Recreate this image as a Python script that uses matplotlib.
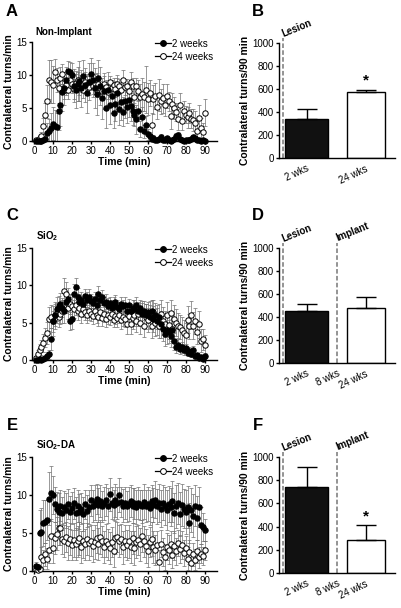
import matplotlib
matplotlib.use("Agg")
import matplotlib.pyplot as plt
import numpy as np

plt.rcParams['font.family'] = ['Liberation Sans', 'DejaVu Sans']
plt.rcParams['mathtext.fontset'] = 'custom'
plt.rcParams['mathtext.rm'] = 'Liberation Sans:bold'
plt.rcParams['mathtext.bf'] = 'Liberation Sans:bold'

time_min = list(range(1, 91))

a_2wk = [0, 0, 0, 0, 0.1, 0.3, 1.2, 1.5, 2.0, 2.6, 2.3, 2.1, 4.6, 5.5, 7.5, 8.0, 9.2, 10.6, 10.5, 10.0,
         8.4, 7.8, 8.6, 9.1, 8.0, 9.8, 8.5, 7.2, 9.0, 10.2, 9.2, 8.0, 7.1, 9.5, 8.3, 6.5, 7.6, 5.0, 7.8, 5.4,
         6.8, 4.3, 5.6, 7.2, 4.8, 5.9, 4.4, 6.0, 5.2, 6.2, 5.3, 4.5, 4.0, 3.3, 4.6, 1.8, 3.6, 1.5, 2.4, 1.0,
         0.7, 0.3, 0.5, 0.2, 0.1, 0.3, 0.6, 0.2, 0.1, 0.5, 0.1, 0.0, 0.2, 0.3, 0.8, 0.9, 0.3, 0.1, 0.0, 0.1,
         0.2, 0.1, 0.3, 0.6, 0.5, 0.2, 0.1, 0.0, 0.1, 0.0]
a_2wk_err = [0, 0, 0, 0, 0.2, 0.5, 1.5, 1.8, 2.2, 2.5, 2.4, 2.2, 3.0, 3.2, 3.0, 2.5, 2.0, 1.5, 1.4, 1.8,
             2.5, 2.8, 2.6, 3.0, 2.8, 2.4, 2.6, 3.0, 2.8, 2.4, 2.6, 3.0, 3.2, 2.8, 2.9, 3.1, 2.7, 3.0, 2.6, 2.8,
             2.5, 2.4, 2.6, 2.8, 2.3, 2.7, 2.2, 2.5, 2.4, 2.6, 2.3, 2.0, 1.8, 2.2, 1.6, 1.2, 1.5, 1.0, 1.4, 0.8,
             0.6, 0.4, 0.4, 0.3, 0.2, 0.3, 0.4, 0.2, 0.2, 0.3, 0.2, 0.1, 0.2, 0.3, 0.4, 0.4, 0.3, 0.2, 0.1, 0.2,
             0.2, 0.1, 0.2, 0.3, 0.3, 0.2, 0.1, 0.1, 0.1, 0.1]
a_24wk = [0.1, 0.2, 0.5, 0.8, 2.3, 4.0, 6.0, 9.3, 9.0, 8.5, 10.5, 9.2, 8.0, 9.6, 10.2, 7.7, 8.5, 7.8, 9.2, 8.6,
          7.9, 8.8, 9.2, 8.3, 8.7, 7.7, 9.0, 8.5, 8.2, 9.1, 8.3, 8.8, 7.8, 8.6, 8.1, 7.6, 8.7, 8.2, 7.4, 8.9,
          8.0, 8.5, 7.9, 8.6, 8.3, 7.7, 9.3, 8.2, 8.4, 7.6, 9.0, 8.4, 6.7, 8.3, 7.6, 6.6, 7.1, 6.7, 7.8, 6.4,
          7.3, 2.5, 6.3, 6.8, 5.2, 7.0, 6.0, 6.5, 5.4, 6.8, 6.0, 3.8, 5.6, 5.0, 4.4, 3.3, 5.5, 3.0, 4.6, 4.0,
          3.6, 4.2, 3.4, 3.2, 2.8, 1.5, 3.5, 2.0, 1.4, 4.3]
a_24wk_err = [0.1, 0.2, 0.4, 0.6, 1.2, 1.8, 2.5, 3.0, 3.2, 2.8, 2.0, 1.8, 2.2, 1.6, 1.5, 1.4, 1.6, 1.5, 1.2, 1.4,
              1.5, 1.3, 1.2, 1.4, 1.3, 1.2, 1.4, 1.3, 1.2, 1.1, 1.2, 1.3, 1.1, 1.2, 1.0, 1.1, 1.2, 1.0, 1.1, 1.0,
              1.0, 1.1, 1.2, 1.0, 1.1, 1.3, 1.5, 1.2, 1.0, 1.1, 1.4, 1.2, 1.5, 1.3, 1.6, 2.0, 2.5, 2.2, 3.5, 2.4,
              2.0, 1.8, 2.2, 2.0, 1.8, 2.4, 1.9, 2.2, 1.6, 1.8, 1.5, 2.0, 1.6, 1.7, 1.4, 1.6, 1.8, 1.4, 1.5, 1.3,
              1.6, 1.5, 1.4, 1.7, 1.8, 1.6, 2.0, 1.5, 1.4, 2.1]

c_2wk = [0, 0, 0.1, 0, 0.2, 0.3, 0.6, 0.8, 2.8, 5.2, 6.0, 6.8, 7.2, 7.5, 7.0, 6.5, 7.8, 8.2, 5.2, 5.5,
         8.8, 9.8, 8.5, 7.8, 8.0, 7.5, 8.6, 8.1, 8.4, 7.9, 7.6, 8.2, 7.4, 8.8, 8.0, 8.4, 7.6, 7.8, 7.2, 7.6,
         7.0, 7.3, 7.8, 7.1, 6.8, 7.5, 7.2, 7.4, 6.6, 7.3, 6.5, 7.0, 6.8, 7.4, 6.5, 6.9, 6.2, 6.6, 6.0, 6.4,
         5.8, 6.5, 5.5, 6.0, 5.2, 5.8, 4.8, 4.2, 3.5, 4.0, 3.8, 3.2, 4.0, 2.5, 1.8, 2.0, 1.5, 1.7, 1.3, 1.6,
         1.0, 1.2, 0.8, 1.4, 0.5, 0.7, 0.3, 0.4, 0.2, 0.6]
c_2wk_err = [0, 0, 0.1, 0.1, 0.2, 0.3, 0.5, 0.6, 1.5, 2.0, 1.8, 1.6, 1.4, 1.5, 1.3, 1.6, 1.5, 1.4, 1.2, 1.3,
             1.4, 1.2, 1.1, 1.0, 1.1, 1.0, 0.9, 1.0, 1.1, 0.9, 1.0, 0.9, 1.0, 1.1, 0.9, 1.0, 0.9, 1.0, 1.1, 0.9,
             1.0, 1.1, 0.9, 1.0, 0.9, 1.0, 0.9, 1.0, 1.1, 0.9, 1.0, 1.1, 1.2, 1.1, 1.3, 1.2, 1.4, 1.3, 1.5, 1.4,
             1.6, 1.5, 1.7, 1.6, 1.8, 1.7, 1.8, 1.7, 1.6, 1.8, 1.5, 1.4, 1.5, 1.2, 0.9, 0.8, 0.7, 0.7, 0.6, 0.6,
             0.5, 0.5, 0.4, 0.5, 0.3, 0.3, 0.2, 0.2, 0.2, 0.3]
c_24wk = [0.3, 0.8, 1.3, 1.7, 2.3, 3.0, 3.6, 5.5, 5.8, 5.2, 6.0, 6.3, 5.7, 6.2, 6.5, 9.2, 8.8, 7.0, 7.5, 7.2,
          6.8, 7.3, 6.6, 7.0, 6.2, 6.8, 6.4, 6.0, 6.6, 6.2, 5.9, 6.5, 6.0, 5.8, 6.4, 5.6, 6.1, 5.5, 6.0, 5.7,
          6.2, 5.4, 5.9, 5.6, 6.0, 5.3, 5.8, 5.5, 4.8, 5.9, 4.8, 5.6, 6.0, 5.2, 6.1, 5.0, 6.3, 4.6, 5.8, 5.3,
          6.1, 4.5, 6.4, 5.0, 5.7, 4.6, 6.2, 5.2, 4.8, 6.0, 4.7, 6.3, 4.2, 5.5, 5.0, 4.6, 4.4, 4.0, 3.6, 3.3,
          5.4, 4.5, 6.0, 4.6, 5.2, 3.8, 4.8, 2.6, 2.8, 2.0]
c_24wk_err = [0.3, 0.6, 0.9, 1.0, 1.2, 1.3, 1.5, 1.6, 1.5, 1.4, 1.5, 1.4, 1.3, 1.4, 1.5, 1.8, 1.7, 1.5, 1.4, 1.3,
              1.2, 1.3, 1.2, 1.1, 1.2, 1.1, 1.0, 1.1, 1.2, 1.0, 1.1, 1.0, 1.1, 1.2, 1.0, 1.1, 1.0, 1.1, 1.2, 1.0,
              1.1, 1.0, 1.1, 1.2, 1.0, 1.1, 1.2, 1.1, 1.3, 1.2, 1.3, 1.4, 1.5, 1.4, 1.6, 1.5, 1.6, 1.5, 1.7, 1.6,
              1.8, 1.6, 1.7, 1.8, 1.6, 1.7, 1.8, 1.9, 1.7, 1.8, 1.9, 1.8, 1.7, 1.9, 1.8, 1.7, 1.6, 1.8, 1.7, 1.6,
              1.8, 1.7, 1.9, 1.8, 1.7, 1.6, 1.8, 1.5, 1.4, 1.3]

e_2wk = [0.7, 0.5, 5.0, 5.1, 6.3, 6.5, 6.7, 9.5, 10.2, 10.0, 8.8, 8.2, 7.8, 8.6, 7.6, 8.4, 8.0, 8.8, 7.7, 8.3,
         8.9, 7.6, 8.5, 7.8, 8.2, 7.5, 8.8, 7.9, 8.4, 9.3, 8.6, 9.0, 9.5, 8.7, 9.2, 8.5, 8.9, 9.4, 8.6, 10.1,
         9.0, 8.7, 9.3, 8.9, 10.0, 9.1, 8.6, 9.0, 8.5, 8.8, 9.2, 8.6, 8.9, 8.4, 9.0, 8.7, 8.5, 9.1, 8.6, 8.8,
         8.3, 9.2, 8.7, 9.4, 8.5, 8.9, 8.2, 9.0, 8.6, 8.0, 8.8, 8.4, 9.2, 7.6, 8.5, 8.9, 7.5, 8.7, 8.2, 7.8,
         8.4, 6.3, 8.0, 7.3, 8.6, 7.0, 8.4, 6.0, 5.8, 5.4]
e_2wk_err = [0.5, 0.4, 3.0, 3.2, 3.0, 2.8, 2.6, 3.5, 3.6, 2.5, 2.3, 2.2, 2.4, 2.0, 2.2, 2.1, 2.3, 2.0, 2.2, 2.1,
             2.0, 2.2, 2.1, 2.3, 2.0, 2.2, 1.9, 2.1, 2.2, 2.0, 2.1, 2.3, 2.0, 2.2, 2.1, 2.0, 2.2, 2.1, 2.3, 2.2,
             2.1, 2.0, 2.2, 2.1, 2.3, 2.0, 2.2, 2.1, 2.0, 2.2, 2.1, 2.3, 2.0, 2.2, 2.1, 2.0, 2.2, 2.3, 2.1, 2.2,
             2.3, 2.1, 2.2, 2.4, 2.3, 2.5, 2.4, 2.3, 2.5, 2.6, 2.4, 2.5, 2.7, 2.6, 2.8, 2.7, 2.9, 2.8, 2.6, 2.9,
             2.8, 2.6, 2.9, 2.8, 2.7, 2.9, 2.6, 2.4, 1.8, 1.5]
e_24wk = [0.2, 0.1, 0.3, 1.8, 1.5, 2.2, 1.6, 2.8, 4.6, 3.0, 4.3, 4.9, 5.7, 5.6, 4.2, 3.9, 4.5, 3.7, 4.2, 3.4,
          4.1, 3.6, 3.9, 4.3, 3.2, 4.0, 3.5, 4.2, 3.7, 4.0, 3.3, 3.8, 4.4, 3.6, 4.5, 3.9, 3.1, 4.0, 3.5, 3.0,
          3.8, 2.6, 4.4, 4.5, 3.9, 4.2, 3.1, 4.0, 3.4, 3.9, 3.2, 4.3, 3.0, 3.8, 4.1, 3.5, 4.6, 3.9, 3.3, 2.6,
          3.8, 4.2, 3.1, 2.8, 3.4, 1.2, 3.6, 2.5, 1.8, 3.2, 2.8, 3.5, 2.1, 3.3, 2.6, 3.7, 2.9, 3.4, 2.4, 3.0,
          1.6, 2.5, 1.1, 2.2, 1.5, 2.6, 1.8, 2.3, 2.0, 2.7]
e_24wk_err = [0.2, 0.2, 0.4, 1.4, 1.3, 1.5, 1.4, 1.8, 2.2, 2.0, 2.1, 2.2, 2.3, 2.2, 2.0, 2.1, 2.0, 2.2, 2.1, 2.0,
              2.2, 2.1, 2.0, 2.2, 2.1, 2.3, 2.0, 2.1, 2.2, 2.0, 2.1, 2.2, 2.0, 2.1, 2.2, 2.0, 2.1, 2.2, 2.0, 2.1,
              2.0, 2.1, 2.2, 2.0, 2.1, 2.0, 2.2, 2.1, 2.0, 2.2, 2.1, 2.0, 2.2, 2.1, 2.0, 2.2, 2.1, 2.0, 2.2, 2.1,
              2.0, 2.2, 2.1, 2.0, 1.9, 1.6, 1.8, 1.9, 1.7, 1.8, 1.9, 1.8, 1.7, 1.9, 1.8, 1.7, 1.9, 1.8, 1.7, 1.6,
              1.5, 1.6, 1.4, 1.5, 1.4, 1.5, 1.4, 1.3, 1.2, 1.3]

bar_labels_B = ['2 wks', '24 wks']
bar_means_B = [340, 570]
bar_err_B = [90, 25]
bar_labels_DF = ['2 wks', '8 wks', '24 wks']
bar_means_D = [455, 480]
bar_err_D = [55, 95]
bar_means_F = [745, 285]
bar_err_F = [170, 130]

W, H = 401, 608
fig = plt.figure(figsize=(W / 100, H / 100), dpi=100)


def px_axes(left, top, right, bottom):
    return fig.add_axes([left / W, 1 - bottom / H, (right - left) / W, (bottom - top) / H])


def style_axes(ax):
    for s in ['top', 'right']:
        ax.spines[s].set_visible(False)
    for s in ['left', 'bottom']:
        ax.spines[s].set_linewidth(1.0)
    ax.tick_params(labelsize=7, width=1.0, length=2.5, pad=1)


left_rows = [(42, 141), (248, 360), (457, 571)]
right_rows = [(43, 158), (248, 363), (457, 573)]
titles = ['Non-Implant', r'SiO$_\mathregular{2}$', r'SiO$_\mathregular{2}$-DA']
series = [(a_2wk, a_2wk_err, a_24wk, a_24wk_err),
          (c_2wk, c_2wk_err, c_24wk, c_24wk_err),
          (e_2wk, e_2wk_err, e_24wk, e_24wk_err)]
letters_left = ['A', 'C', 'E']
letters_right = ['B', 'D', 'F']
letter_y = [12, 215, 425]

for i in range(3):
    top, bot = left_rows[i]
    ax = px_axes(32, top, 217, bot)
    style_axes(ax)
    s2, e2, s24, e24 = series[i]
    ax.errorbar(time_min, s24, yerr=e24, fmt='none', ecolor='#707070', elinewidth=0.5,
                capsize=1.6, capthick=0.5, zorder=2)
    ax.errorbar(time_min, s2, yerr=e2, fmt='none', ecolor='#707070', elinewidth=0.5,
                capsize=1.6, capthick=0.5, zorder=2)
    ax.plot(time_min, s24, 'o', ms=3.9, mfc='white', mec='black', mew=0.7, zorder=3, clip_on=False)
    ax.plot(time_min, s2, 'o', ms=3.9, mfc='black', mec='black', mew=0.7, zorder=4, clip_on=False)
    ax.set_xlim(-1, 96.5)
    ax.set_ylim(0, 15)
    ax.set_xticks(range(0, 91, 10))
    ax.set_yticks([0, 5, 10, 15])
    ax.set_xlabel('Time (min)', fontsize=7.5, fontweight='bold', labelpad=1)
    ax.set_ylabel('Contralateral turns/min', fontsize=7.5, fontweight='bold', labelpad=2)
    h1, = ax.plot([], [], '-o', color='black', ms=4.2, mfc='black', mew=0.7, lw=0.9)
    h2, = ax.plot([], [], '-o', color='black', ms=4.2, mfc='white', mew=0.7, lw=0.9)
    ax.legend([h1, h2], ['2 weeks', '24 weeks'], loc='upper right',
              bbox_to_anchor=(1.0, 1.0 + 7 / (bot - top)),
              frameon=False, fontsize=7, handlelength=1.6, handletextpad=0.1,
              labelspacing=0.3, borderaxespad=0)
    ax.text(0.02, 1.0 + 5 / (bot - top), titles[i], transform=ax.transAxes, fontsize=7,
            fontweight='bold', ha='left', va='bottom')
    fig.text(12 / W, 1 - letter_y[i] / H, letters_left[i], fontsize=12, fontweight='bold',
             ha='center', va='center')

    # bar panel
    top, bot = right_rows[i]
    bx = px_axes(279, top, 395, bot)
    style_axes(bx)
    bx.set_xlim(0, 11.6)
    bx.set_ylim(0, 1000)
    bx.set_yticks(range(0, 1001, 200))
    bx.set_ylabel('Contralateral turns/90 min', fontsize=7.5, fontweight='bold', labelpad=2)
    bar_x = [2.75, 8.65]
    bar_w = [4.3, 3.8]
    if i == 0:
        means, errs = bar_means_B, bar_err_B
        tick_pos = bar_x
        tick_lab = bar_labels_B
        lines = [(0.4, 'Lesion')]
    else:
        means = bar_means_D if i == 1 else bar_means_F
        errs = bar_err_D if i == 1 else bar_err_F
        tick_pos = [bar_x[0], 5.8, bar_x[1]]
        tick_lab = bar_labels_DF
        lines = [(0.4, 'Lesion'), (5.8, 'Implant')]
    bx.bar(bar_x[0], means[0], width=bar_w[0], color='#111111', edgecolor='black', lw=1, zorder=2)
    bx.bar(bar_x[1], means[1], width=bar_w[1], color='white', edgecolor='black', lw=1, zorder=2)
    for j in range(2):
        bx.errorbar(bar_x[j], means[j], yerr=[[0], [errs[j]]], fmt='none', ecolor='black',
                    elinewidth=1, capsize=7, capthick=1, zorder=3)
    if i in (0, 2):
        bx.text(bar_x[1], means[1] + errs[1] + 15, '*', ha='center', va='bottom',
                fontsize=11, fontweight='bold')
    for (xl, lab) in lines:
        bx.plot([xl, xl], [0, 1040], ls=(0, (3, 1.5)), color='#777777', lw=1.1, clip_on=False, zorder=1)
        bx.text(xl + 0.1, 1040, lab, rotation=22, fontsize=7, fontweight='bold',
                ha='left', va='bottom', rotation_mode='anchor')
    bx.set_xticks(tick_pos)
    bx.set_xticklabels(tick_lab, rotation=25, ha='right', rotation_mode='anchor')
    bx.tick_params(axis='x', length=0, pad=4)
    fig.text(258 / W, 1 - letter_y[i] / H, letters_right[i], fontsize=12, fontweight='bold',
             ha='center', va='center')

fig.savefig('out.png', dpi=100)
